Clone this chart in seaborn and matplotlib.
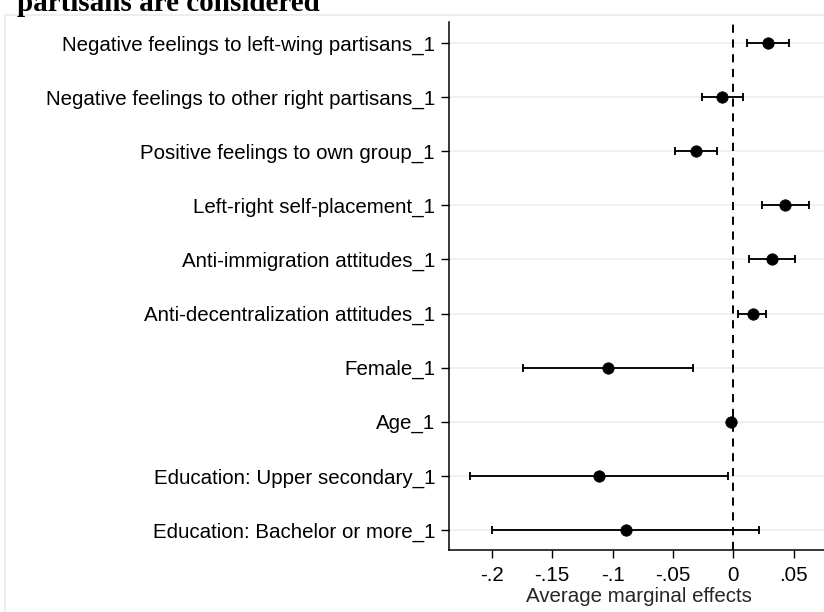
import matplotlib
matplotlib.use("Agg")
import matplotlib.pyplot as plt
from matplotlib.patches import Rectangle
import numpy as np
import pandas as pd
import seaborn as sns

# Average marginal effects with 95% confidence intervals
variables = [
    "Negative feelings to left-wing partisans_1",
    "Negative feelings to other right partisans_1",
    "Positive feelings to own group_1",
    "Left-right self-placement_1",
    "Anti-immigration attitudes_1",
    "Anti-decentralization attitudes_1",
    "Female_1",
    "Age_1",
    "Education: Upper secondary_1",
    "Education: Bachelor or more_1",
]
effects = [0.029, -0.009, -0.031, 0.043, 0.032, 0.016, -0.1035, -0.002, -0.111, -0.089]
ci_low = [0.0116, -0.026, -0.048, 0.024, 0.0133, 0.0039, -0.174, -0.0035, -0.2177, -0.1995]
ci_high = [0.046, 0.008, -0.0132, 0.0629, 0.0508, 0.0273, -0.0334, -0.0005, -0.0041, 0.021]
xtick_values = [-0.2, -0.15, -0.1, -0.05, 0, 0.05]
xtick_labels = ["-.2", "-.15", "-.1", "-.05", "0", ".05"]

df = pd.DataFrame({
    "variable": variables,
    "effect": effects,
    "lo": ci_low,
    "hi": ci_high,
})
df["pos"] = np.arange(len(df))

sns.set_theme(style="white")
plt.rcParams["font.family"] = ["Liberation Sans", "DejaVu Sans"]

W, H = 824, 612
fig = plt.figure(figsize=(W / 100, H / 100), dpi=100)
fig.patch.set_facecolor("white")

# light outer frame of the graph region
fig.patches.append(Rectangle((5 / W, -0.1), 2, (1 - 14.5 / H) + 0.1,
                             transform=fig.transFigure, fill=False,
                             edgecolor="#e6eef0", linewidth=1.2))

ax_l, ax_r, ax_t, ax_b = 449, 829, 22, 550
ax = fig.add_axes([ax_l / W, 1 - ax_b / H, (ax_r - ax_l) / W, (ax_b - ax_t) / H])
ax.set_facecolor("white")

# horizontal grid at each coefficient
for p in df["pos"]:
    ax.axhline(p, color="#e8f0f2", linewidth=1.2, zorder=0)

# reference line at zero
ax.axvline(0, color="black", linewidth=1.4, linestyle=(0, (4.2, 3.4)), zorder=1)

ax.errorbar(df["effect"], df["pos"],
            xerr=[df["effect"] - df["lo"], df["hi"] - df["effect"]],
            fmt="none", ecolor="black", elinewidth=1.35, capsize=3.0,
            capthick=1.35, zorder=2)
sns.scatterplot(data=df, x="effect", y="pos", ax=ax, color="black",
                s=68, edgecolor="black", linewidth=0.5, zorder=3, legend=False)

fs = 14.8
ax.set_xlim(-0.2354, 0.0792)
ax.set_ylim(9.37, -0.39)
ax.set_yticks(df["pos"])
ax.set_yticklabels(df["variable"], fontsize=fs)
ax.set_xticks(xtick_values)
ax.set_xticklabels(xtick_labels, fontsize=fs)
ax.set_xlabel("Average marginal effects", fontsize=fs, labelpad=1.5)
ax.set_ylabel("")

for side in ["top", "right"]:
    ax.spines[side].set_visible(False)
for side in ["left", "bottom"]:
    ax.spines[side].set_color("black")
    ax.spines[side].set_linewidth(1.1)
ax.tick_params(axis="both", which="major", direction="out", length=6,
               width=1.0, color="black", labelcolor="black",
               left=True, bottom=True)
ax.tick_params(axis="y", pad=4)
ax.tick_params(axis="x", pad=5.5)

fig.text(17 / W, 1 - 11 / H, "partisans are considered",
         fontfamily=["Liberation Serif", "DejaVu Serif"], fontweight="bold",
         fontsize=21, ha="left", va="baseline", color="black")

fig.savefig("out.png", dpi=100)
